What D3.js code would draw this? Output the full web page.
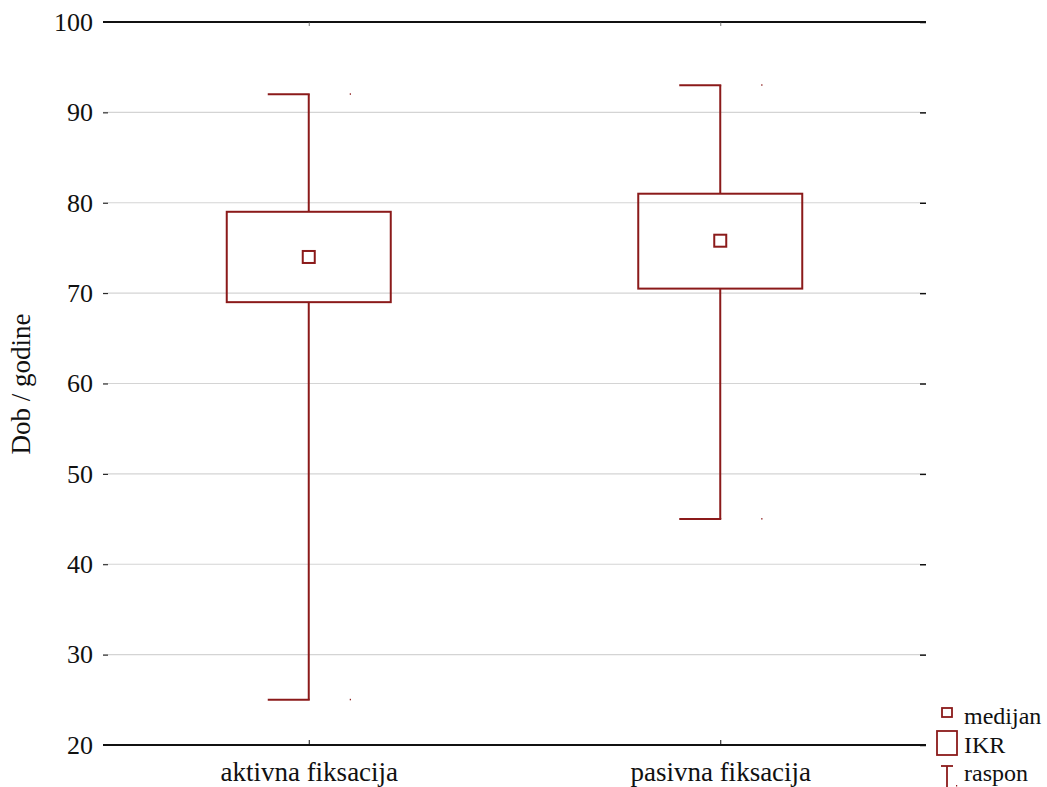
<!DOCTYPE html>
<html><head><meta charset="utf-8">
<script src="https://cdn.jsdelivr.net/npm/d3@7/dist/d3.min.js"></script>
<style>body{margin:0;background:#fff}svg{display:block}</style>
</head><body><svg id="c" width="1047" height="787" style="font-family:'Liberation Serif',serif"></svg>
<script>
const categories = ["aktivna fiksacija", "pasivna fiksacija"];
const minVals = [25, 45];
const q1Vals = [69, 70.5];
const medianVals = [74, 75.8];
const q3Vals = [79, 81];
const maxVals = [92, 93];
const yTicks = [20, 30, 40, 50, 60, 70, 80, 90, 100];
const legendLabels = ["medijan", "IKR", "raspon"];

(function () {
const svg = d3.select("#c");
const pL = 103, pR = 926, pT = 22, pB = 745;
const red = "#8b1a1a";
const FONT = "'Liberation Serif', 'Times New Roman', serif";
const y = d3.scaleLinear().domain([20, 100]).range([pB, pT]);
const x = d3.scalePoint().domain(categories).range([pL, pR]).padding(0.5);

function styleText(sel, size) {
  sel.style("font-family", FONT).style("font-size", (size || 26) + "px").style("fill", "#111");
}

// gridlines
svg.append("g").selectAll("line").data(yTicks.filter(t => t !== 20 && t !== 100)).join("line")
  .attr("x1", pL).attr("x2", pR - 6).attr("y1", d => y(d)).attr("y2", d => y(d))
  .attr("stroke", "#d4d4d4").attr("stroke-width", 1.2);

// left axis
const yl = svg.append("g").attr("transform", `translate(${pL},0)`)
  .call(d3.axisLeft(y).tickValues(yTicks).tickSize(-5).tickPadding(10).tickFormat(d3.format("d")));
yl.attr("font-family", null).attr("font-size", null);
yl.select(".domain").remove();
yl.selectAll("line").attr("stroke", "#111");
styleText(yl.selectAll("text"), 26);
// right ticks
const yr = svg.append("g").attr("transform", `translate(${pR},0)`)
  .call(d3.axisRight(y).tickValues(yTicks).tickSize(-6).tickFormat(""));
yr.select(".domain").remove();
yr.selectAll("line").attr("stroke", "#111").attr("stroke-width", 1.5);

// top & bottom frame lines
[20, 100].forEach(v => svg.append("line").attr("x1", pL).attr("x2", pR)
  .attr("y1", y(v)).attr("y2", y(v)).attr("stroke", "#111").attr("stroke-width", 2));

// x ticks
const xb = svg.append("g").attr("transform", `translate(0,${pB})`)
  .call(d3.axisBottom(x).tickSize(-5));
xb.attr("font-family", null).attr("font-size", null);
xb.select(".domain").remove();
xb.selectAll("line").attr("stroke", "#111");
xb.selectAll("text").attr("y", 36).attr("dy", null);
styleText(xb.selectAll("text"), 27);
const xt = svg.append("g").attr("transform", `translate(0,${pT})`)
  .call(d3.axisTop(x).tickSize(-4).tickFormat(""));
xt.select(".domain").remove();
xt.selectAll("line").attr("stroke", "#555").attr("stroke-width", 0.8);

// boxes
const boxW = 164, capHalf = 41;
const g = svg.append("g");
categories.forEach((c, i) => {
  const cx = x(c);
  g.append("line").attr("x1", cx).attr("x2", cx).attr("y1", y(maxVals[i])).attr("y2", y(q3Vals[i]))
    .attr("stroke", red).attr("stroke-width", 2);
  g.append("line").attr("x1", cx).attr("x2", cx).attr("y1", y(q1Vals[i])).attr("y2", y(minVals[i]))
    .attr("stroke", red).attr("stroke-width", 2);
  [maxVals[i], minVals[i]].forEach(v => {
    g.append("line").attr("x1", cx - capHalf).attr("x2", cx + 1).attr("y1", y(v)).attr("y2", y(v))
      .attr("stroke", red).attr("stroke-width", 2);
    g.append("rect").attr("x", cx + capHalf).attr("y", y(v) - 1).attr("width", 1.2).attr("height", 1.5)
      .attr("fill", red);
  });
  g.append("rect").attr("x", cx - boxW / 2).attr("y", y(q3Vals[i]))
    .attr("width", boxW).attr("height", y(q1Vals[i]) - y(q3Vals[i]))
    .attr("fill", "none").attr("stroke", red).attr("stroke-width", 2);
  g.append("rect").attr("x", cx - 6).attr("y", y(medianVals[i]) - 6).attr("width", 12).attr("height", 12)
    .attr("fill", "none").attr("stroke", red).attr("stroke-width", 2);
});

// y label
styleText(svg.append("text").attr("transform", "translate(30,384) rotate(-90)").attr("text-anchor", "middle")
  .text("Dob / godine"), 27);

// legend
const lg = svg.append("g");
lg.append("rect").attr("x", 942).attr("y", 708).attr("width", 10).attr("height", 9)
  .attr("fill", "none").attr("stroke", red).attr("stroke-width", 1.8);
lg.append("rect").attr("x", 937).attr("y", 731).attr("width", 20).attr("height", 24)
  .attr("fill", "none").attr("stroke", red).attr("stroke-width", 1.8);
lg.append("line").attr("x1", 941).attr("x2", 953).attr("y1", 766).attr("y2", 766).attr("stroke", red).attr("stroke-width", 1.8);
lg.append("line").attr("x1", 947).attr("x2", 947).attr("y1", 766).attr("y2", 787).attr("stroke", red).attr("stroke-width", 1.8);
lg.append("rect").attr("x", 956).attr("y", 785).attr("width", 1.2).attr("height", 1.5).attr("fill", red);
styleText(lg.selectAll("text").data(legendLabels).join("text")
  .attr("x", 964).attr("y", (d, i) => [724, 753, 781][i]).text(d => d), 24);
})();
</script></body></html>
